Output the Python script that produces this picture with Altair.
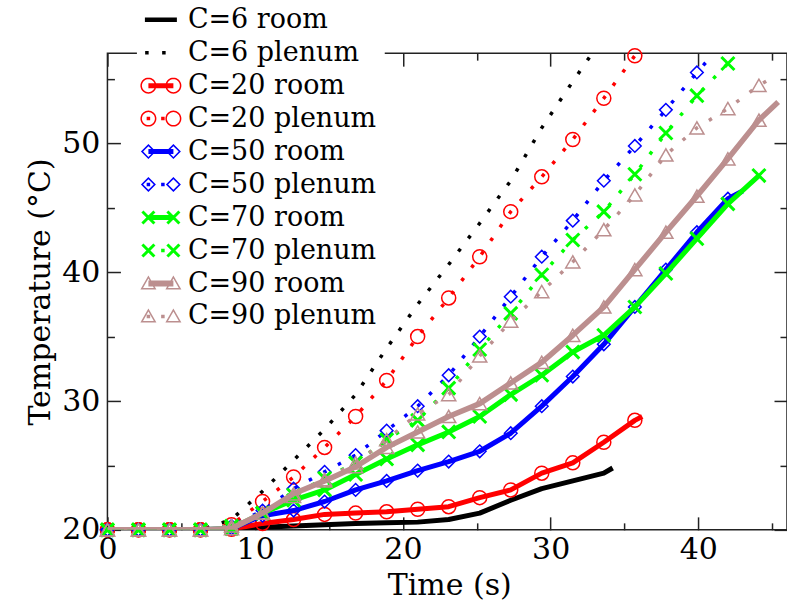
import math
import altair as alt
import pandas as pd

# ---------------- data ----------------
t_grid = [0.0, 2.1, 4.2, 6.3, 8.4, 10.5, 12.6, 14.7, 16.8, 18.9, 21.0,
          23.1, 25.2, 27.3, 29.4, 31.5, 33.6, 35.7, 37.8, 39.9, 42.0, 44.1]

c6_room = [20, 20, 20, 20, 20.0, 20.2, 20.3, 20.4, 20.5, 20.55, 20.6,
           20.8, 21.3, 22.3, 23.2, 23.8, 24.4]
c6_plenum = [20, 20, 20, 20, 20.8, 23.0, 25.4, 27.8, 30.5, 34.1, 37.5,
             40.6, 43.8, 47.1, 51.2, 54.8, 58.3]
c20_room = [20, 20, 20, 20, 20.05, 20.5, 20.8, 21.2, 21.3, 21.4, 21.6,
            21.8, 22.5, 23.1, 24.4, 25.2, 26.8, 28.5]
c20_plenum = [20, 20, 20, 20, 20.4, 22.2, 24.1, 26.4, 28.8, 31.6, 35.0,
              38.0, 41.2, 44.7, 47.4, 50.3, 53.5, 56.8]
c50_room = [20, 20, 20, 20, 20.1, 21.1, 21.5, 22.2, 23.1, 23.8, 24.6,
            25.3, 26.1, 27.5, 29.6, 31.9, 34.4, 37.3, 40.2, 43.1, 45.7]
c50_plenum = [20, 20, 20, 20, 20.3, 21.5, 23.2, 24.5, 25.8, 27.7, 29.6,
              32.0, 35.0, 38.1, 41.2, 44.0, 47.1, 49.8, 52.6, 55.5]
c70_room = [20, 20, 20, 20, 20.1, 21.3, 22.3, 23.1, 24.3, 25.5, 26.6,
            27.6, 28.8, 30.5, 32.0, 33.8, 35.1, 37.3, 39.9, 42.6, 45.3, 47.5]
c70_plenum = [20, 20, 20, 20, 20.3, 21.3, 22.7, 24.0, 25.2, 27.0, 28.5,
              31.0, 34.0, 36.8, 39.8, 42.5, 44.7, 47.6, 50.8, 53.7, 56.2]
c90_room = [20, 20, 20, 20, 20.1, 21.3, 22.8, 23.8, 24.9, 26.4, 27.6,
            28.8, 29.8, 31.4, 33.0, 35.1, 37.3, 40.2, 43.1, 45.9, 48.8, 51.8]
c90_plenum = [20, 20, 20, 20, 20.3, 21.3, 22.6, 23.9, 25.2, 27.0, 29.0,
              30.5, 33.5, 36.2, 38.5, 40.8, 43.3, 46.0, 49.1, 51.2, 52.7, 54.5]

# last recorded sample of a series that falls between marker times
tail_time = {"C=6 room": 34.2, "C=20 room": 36.2, "C=50 room": 43.0,
             "C=50 plenum": 40.6, "C=70 plenum": 42.6, "C=90 room": 45.4,
             "C=90 plenum": 45.3}
tail_temp = {"C=6 room": 24.8, "C=20 room": 28.8, "C=50 room": 46.3,
             "C=50 plenum": 56.4, "C=70 plenum": 56.7, "C=90 room": 53.2,
             "C=90 plenum": 55.3}

names = ["C=6 room", "C=6 plenum", "C=20 room", "C=20 plenum",
         "C=50 room", "C=50 plenum", "C=70 room", "C=70 plenum",
         "C=90 room", "C=90 plenum"]
values = [c6_room, c6_plenum, c20_room, c20_plenum, c50_room, c50_plenum,
          c70_room, c70_plenum, c90_room, c90_plenum]
colors = ["#000000", "#000000", "#ff0000", "#ff0000", "#0000ff", "#0000ff",
          "#00ff00", "#00ff00", "#bc8f8f", "#bc8f8f"]
markers = [None, None, "circle", "circle", "diamond", "diamond",
           "x", "x", "triangle", "triangle"]

x_major = [0, 10, 20, 30, 40]
x_minor = [5, 15, 25, 35, 45]
y_major = [20, 30, 40, 50]
y_minor = [25, 35, 45, 55]

# ---------------- table ----------------
rows = []
for name, vals in zip(names, values):
    for i, v in enumerate(vals):
        rows.append({"series": name, "time": t_grid[i], "temp": v, "mk": True})
    if name in tail_time:
        rows.append({"series": name, "time": tail_time[name],
                     "temp": tail_temp[name], "mk": False})
df = pd.DataFrame(rows)

FONT = "DejaVu Serif"
xs = alt.Scale(domain=[0, 46], nice=False, zero=False)
ys = alt.Scale(domain=[20, 57], nice=False, zero=False)
X = alt.X("time:Q", scale=xs, axis=None)
Y = alt.Y("temp:Q", scale=ys, axis=None)

X_SHAPE = "M-1,-1L1,1M-1,1L1,-1"
plot_shape = {"circle": ("circle", 196, 1.5), "diamond": ("diamond", 160, 1.5),
              "x": (X_SHAPE, 170, 3), "triangle": ("triangle-up", 200, 1.5)}

layers = []
for name, col, mkr in zip(names, colors, markers):
    base = alt.Chart(df).transform_filter(alt.datum.series == name)
    if "room" in name:
        line = base.mark_line(color=col, strokeWidth=5.5 if "90" in name else 5,
                              strokeJoin="round", clip=True)
    else:
        line = base.mark_line(color=col, strokeWidth=3.5, strokeDash=[3.5, 13],
                              clip=True)
    layers.append(line.encode(x=X, y=Y))
    if mkr:
        shp, size, sw = plot_shape[mkr]
        pts = base.transform_filter("datum.mk").mark_point(
            shape=shp, size=size, strokeWidth=sw, color=col, filled=False,
            opacity=1)
        layers.append(pts.encode(x=X, y=Y))

# ---------------- axes (ticks pointing inwards on all four sides) ----------------
def axis(orient, vals, length, labels, title=None, **kw):
    args = dict(orient=orient, values=vals, tickSize=length, offset=-length,
                domain=False, grid=False, ticks=True, tickColor="#222",
                tickWidth=1.5, labels=labels, labelFlush=False,
                labelOverlap=False, title=title)
    if labels:
        args.update(labelFont=FONT, labelFontSize=30, labelColor="black")
    if title:
        args.update(titleFont=FONT, titleFontSize=30, titleFontWeight="normal",
                    titleColor="black")
    args.update(kw)
    return alt.Axis(**args)

carriers = [
    (axis("bottom", x_major, 13, True, "Time (s)", labelPadding=5,
          titleX=342, titleY=78, titleBaseline="alphabetic"),
     axis("left", y_major, 13, True, "Temperature (°C)", labelPadding=7.5,
          titleX=-71, titleY=238.5, titleAngle=270,
          titleBaseline="alphabetic", titleAlign="center")),
    (axis("bottom", x_minor, 7, False), axis("left", y_minor, 7, False)),
    (axis("top", x_major, 13, False), axis("right", y_major, 13, False)),
    (axis("top", x_minor, 7, False), axis("right", y_minor, 7, False)),
]
for ax_x, ax_y in carriers:
    layers.append(alt.Chart(df).transform_filter("false").mark_point().encode(
        x=alt.X("time:Q", scale=xs, axis=ax_x),
        y=alt.Y("temp:Q", scale=ys, axis=ax_y)))

# ---------------- legend symbols (line + markers as filled paths) ----------------
U = 16.0  # pixels per path unit for symbolSize 1024


def pth(pts):
    return "M" + "L".join(f"{x / U:.4f},{y / U:.4f}" for x, y in pts) + "Z"


def rect(x0, y0, x1, y1):
    return pth([(x0, y0), (x1, y0), (x1, y1), (x0, y1)])


def circ(cx, r, pos=True, n=36):
    pts = [(cx + r * math.cos(2 * math.pi * i / n), r * math.sin(2 * math.pi * i / n))
           for i in range(n)]
    return pth(pts if pos else pts[::-1])


def ring_circle(cx):
    return circ(cx, 8) + circ(cx, 6.5, False)


def dia(cx, h, pos=True):
    pts = [(cx, -h), (cx + h, 0), (cx, h), (cx - h, 0)]
    return pth(pts if pos else pts[::-1])


def ring_diamond(cx):
    return dia(cx, 7.5) + dia(cx, 5.3, False)


def ring_triangle(cx):
    outer = [(cx, -8), (cx + 8, 6), (cx - 8, 6)]
    inner = [(cx, -5.0), (cx - 5.4, 4.5), (cx + 5.4, 4.5)]
    return pth(outer) + pth(inner)


def xmark(cx):
    a, d = 6.0, 1.5 / math.sqrt(2)
    r1 = [(cx - a + d, -a - d), (cx + a + d, a - d), (cx + a - d, a + d), (cx - a - d, -a + d)]
    r2 = [(cx - a + d, a + d), (cx - a - d, a - d), (cx + a - d, -a - d), (cx + a + d, -a + d)]
    return pth(r1) + pth(r2)


def dot(cx):
    return rect(cx - 1.75, -1.75, cx + 1.75, 1.75)


marker_fn = {"circle": ring_circle, "diamond": ring_diamond,
             "x": xmark, "triangle": ring_triangle}
legend_paths = []
for name, mkr in zip(names, markers):
    if mkr is None:
        p = rect(-16, -2.25, 16, 2.25) if "room" in name else dot(-14) + dot(3)
    else:
        f = marker_fn[mkr]
        p = f(-12.5) + f(12.5)
        if "room" in name:
            hw = 3.0 if "90" in name else 2.5
            p += rect(-12.5, -hw, 12.5, hw)
        else:
            p += dot(-12.5) + dot(2)
    legend_paths.append(p)

leg = alt.Legend(orient="none", legendX=29.5, legendY=-57.5, title=None,
                 padding=8, fillColor="white", labelFont=FONT, labelFontSize=27,
                 labelColor="black", labelOffset=11, labelLimit=400,
                 symbolSize=1024, symbolStrokeWidth=0, symbolOpacity=1,
                 rowPadding=4)
layers.append(alt.Chart(df).transform_filter("false").mark_point(
    filled=True, opacity=1, strokeWidth=0).encode(
    x=X, y=Y,
    color=alt.Color("series:N", scale=alt.Scale(domain=names, range=colors), legend=leg),
    shape=alt.Shape("series:N", scale=alt.Scale(domain=names, range=legend_paths), legend=leg)))

chart = alt.layer(*layers).resolve_axis(x="independent", y="independent").properties(
    width=680, height=477,
    padding={"left": 107.5, "top": 53, "right": 0, "bottom": 71},
    autosize=alt.AutoSizeParams(type="none"),
    background="white",
).configure_view(stroke="#222", strokeWidth=1.5)

chart.save("out.html", embed_options={"renderer": "svg", "actions": False})
